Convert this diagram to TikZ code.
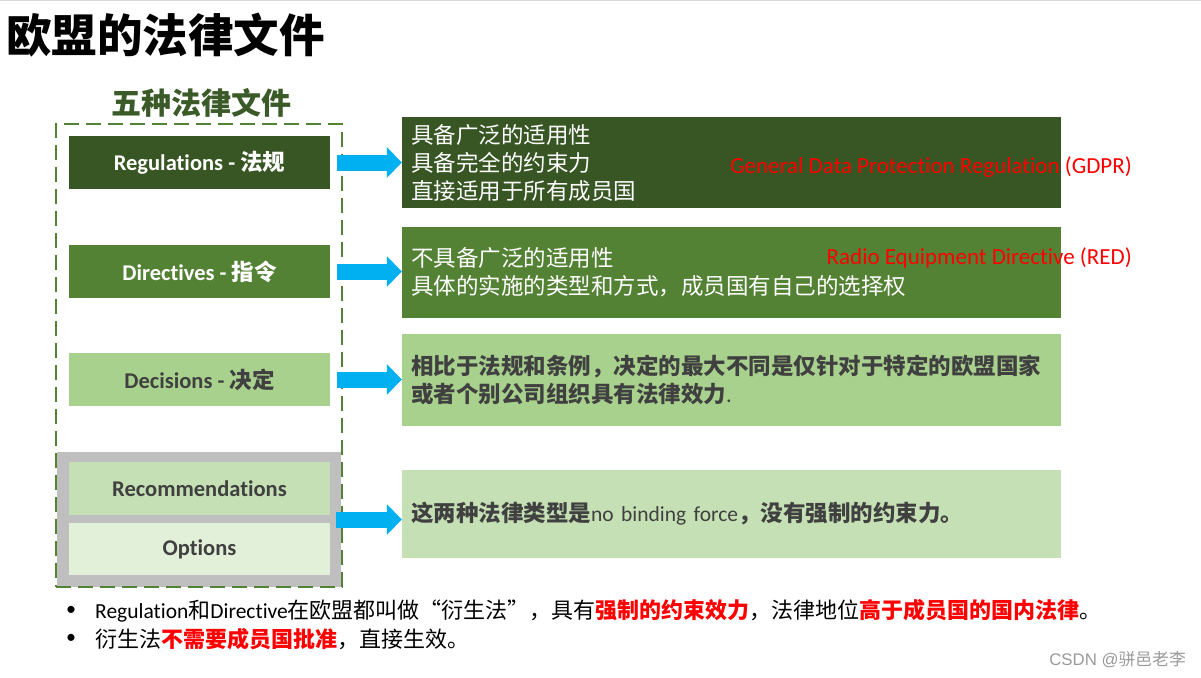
\documentclass[tikz,border=0pt]{standalone}
\usepackage{fontspec}
\setmainfont{Carlito}[Ligatures=NoCommon]
\newfontfamily\cjk{Noto Sans CJK SC}
\newfontfamily\lat{Carlito}[Ligatures=NoCommon]
\newfontfamily\arial{Liberation Sans}
\usetikzlibrary{arrows.meta}
\definecolor{dkgreen}{HTML}{375623}
\definecolor{mdgreen}{HTML}{548235}
\definecolor{ltgreen}{HTML}{A9D18E}
\definecolor{plgreen}{HTML}{C5E0B4}
\definecolor{pstgreen}{HTML}{E2F0D9}
\definecolor{boxgray}{HTML}{BFBFBF}
\definecolor{arrowblue}{HTML}{00B0F0}
\definecolor{txtgray}{HTML}{404040}
\definecolor{titlegreen}{HTML}{3A5A27}
\definecolor{topgray}{HTML}{DADADA}
\definecolor{wmgray}{HTML}{9A9A9A}
\definecolor{pured}{HTML}{FF0000}
\newcommand\en[1]{{\lat\fontsize{21.5}{26}\selectfont #1}}
\newcommand\hl[1]{{\bfseries\color{pured}#1}}
\begin{document}
\begin{tikzpicture}[x=1pt,y=-1pt,
  lbox/.style={minimum width=261, minimum height=53, inner sep=0, font=\lat\bfseries\fontsize{22.5}{27}\selectfont},
  rbox/.style={minimum width=659, minimum height=91, inner xsep=9, inner ysep=0, text width=641, align=left, font=\cjk\fontsize{22.5}{28}\selectfont},
  arr/.style={draw=arrowblue, line width=16, -{Triangle[width=30pt,length=15pt]}},
  plain/.style={inner sep=0},
  redlbl/.style={anchor=east, inner sep=0, text=pured, font=\lat\fontsize{23}{28}\selectfont},
  bul/.style={inner sep=0, font=\cjk\fontsize{22}{26}\selectfont}]
\useasboundingbox (0,0) rectangle (1201,677);
\fill[white] (0,0) rectangle (1201,677);
\fill[topgray] (0,0) rectangle (1201,1.5);
% titles
\node[plain, anchor=west, font=\cjk\bfseries\fontsize{45.5}{50}\selectfont] (title) at (6,35) {欧盟的法律文件};
\node[plain, text=titlegreen, font=\cjk\bfseries\fontsize{30}{34}\selectfont] (sub) at (201,103) {五种法律文件};
% left column
\node[lbox, fill=dkgreen, text=white] (reg) at (199.5,162.5) {Regulations - {\cjk 法规}};
\node[lbox, fill=mdgreen, text=white] (dir) at (199.5,271.5) {Directives - {\cjk 指令}};
\node[lbox, fill=ltgreen, text=txtgray] (dec) at (199.5,379.5) {Decisions - {\cjk 决定}};
\node[fill=boxgray, minimum width=284, minimum height=135, inner sep=0] (grp) at (199,519.5) {};
\node[lbox, fill=plgreen, text=txtgray] (rec) at (199.5,488.5) {Recommendations};
\node[lbox, fill=pstgreen, text=txtgray, minimum height=52] (opt) at (199.5,549) {\raisebox{-1.5pt}{Options}};
\node[draw=mdgreen, line width=2.5, dash pattern=on 15 off 7, minimum width=286, minimum height=463, inner sep=0] (frame) at (199,355.5) {};
% right column
\node[rbox, fill=dkgreen, text=white] (r1) at (731.5,162.5) {具备广泛的适用性\\具备完全的约束力\\直接适用于所有成员国};
\node[rbox, fill=mdgreen, text=white] (r2) at (731.5,272.5) {\raisebox{-2pt}{不具备广泛的适用性}\\\raisebox{-2pt}{具体的实施的类型和方式，成员国有自己的选择权}};
\node[rbox, fill=ltgreen, text=txtgray, minimum height=92, font=\cjk\bfseries\fontsize{22.5}{28}\selectfont] (r3) at (731.5,380) {相比于法规和条例，决定的最大不同是仅针对于特定的欧盟国家\\或者个别公司组织具有法律效力{\lat\mdseries .}};
\node[rbox, fill=plgreen, text=txtgray, minimum height=88, font=\cjk\bfseries\fontsize{22.5}{28}\selectfont] (r4) at (731.5,514) {这两种法律类型是{\lat\mdseries\fontsize{21.5}{28}\selectfont no binding force}，没有强制的约束力。};
% red labels
\node[redlbl] (gdpr) at (1132,167) {General Data Protection Regulation (GDPR)};
\node[redlbl] (red) at (1132,258) {Radio Equipment Directive (RED)};
% arrows
\draw[arr] ([xshift=7]reg.east) -- (reg.east -| r1.west);
\draw[arr] ([xshift=7]dir.east) -- (dir.east -| r2.west);
\draw[arr] ([xshift=7]dec.east) -- (dec.east -| r3.west);
\draw[arr] ([xshift=-5]grp.east) -- (grp.east -| r4.west);
% bullets
\node[plain, font=\lat\fontsize{20}{24}\selectfont] (d1) at (71,611) {•};
\node[plain, font=\lat\fontsize{20}{24}\selectfont] (d2) at (71,639) {•};
\node[bul, anchor=west] (t1) at (95,611) {\en{Regulation}和\en{Directive}在欧盟都叫做“衍生法”，具有\hl{强制的约束效力}，法律地位\hl{高于成员国的国内法律}。};
\node[bul, anchor=west] (t2) at (95,639) {衍生法\hl{不需要成员国批准}，直接生效。};
% watermark
\node[plain, anchor=east, text=wmgray, font=\arial\fontsize{16.8}{20}\selectfont] (wm) at (1186,660) {CSDN @{\cjk 骈邑老李}};
\end{tikzpicture}
\end{document}
